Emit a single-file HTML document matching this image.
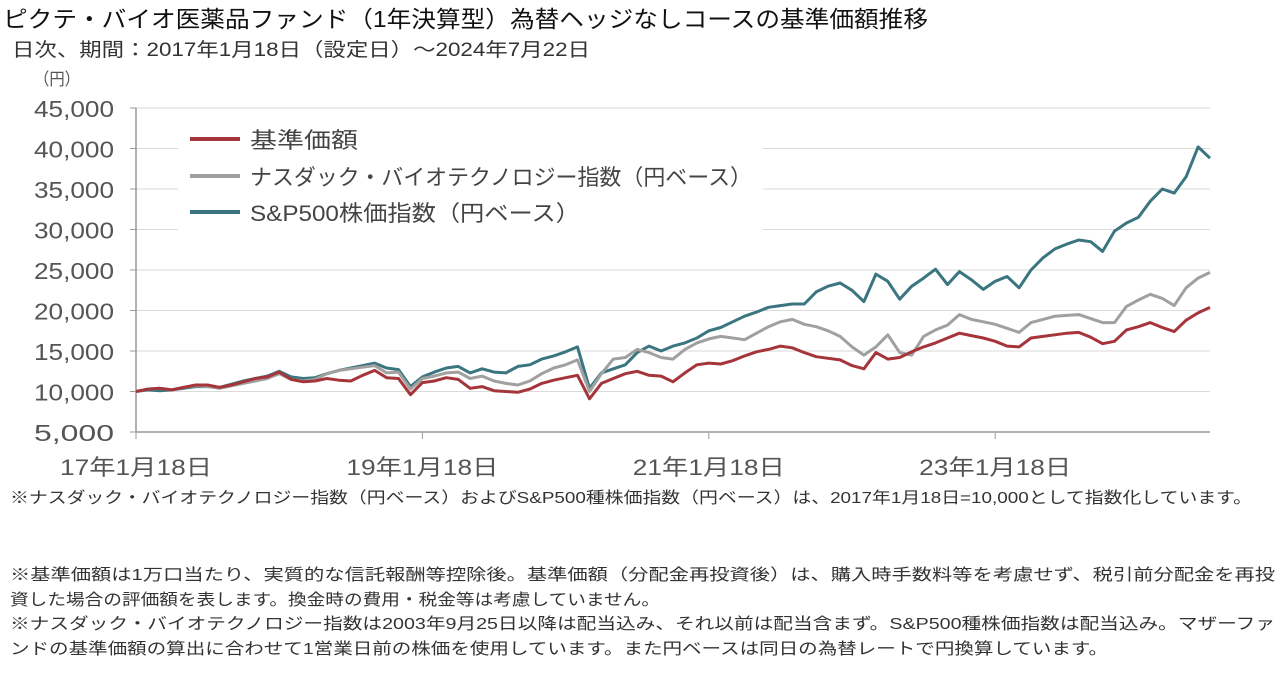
<!DOCTYPE html>
<html><head><meta charset="utf-8"><style>
html,body{margin:0;padding:0;background:#fff;}
svg{display:block;font-family:"Liberation Sans","Noto Sans CJK JP",sans-serif;}
</style></head><body>
<svg id="chart" width="1280" height="676" viewBox="0 0 1280 676" xmlns="http://www.w3.org/2000/svg">
<text x="3" y="27" font-size="23" fill="#111" textLength="925" lengthAdjust="spacingAndGlyphs">ピクテ・バイオ医薬品ファンド（1年決算型）為替ヘッジなしコースの基準価額推移</text>
<text x="12" y="56" font-size="19" fill="#333" textLength="578" lengthAdjust="spacingAndGlyphs">日次、期間：2017年1月18日（設定日）～2024年7月22日</text>
<text x="34" y="85" font-size="17" fill="#555" textLength="46" lengthAdjust="spacingAndGlyphs">（円）</text>
<g id="grid"></g>
<g id="legend">
<rect x="178" y="118" width="585" height="112" fill="#fff"/>
<line x1="190" y1="139" x2="240" y2="139" stroke="#a5353b" stroke-width="4"/>
<text x="250" y="148" font-size="22" fill="#444" textLength="108" lengthAdjust="spacingAndGlyphs">基準価額</text>
<line x1="190" y1="176" x2="240" y2="176" stroke="#a0a0a0" stroke-width="4"/>
<text x="250" y="185" font-size="22" fill="#444" textLength="502" lengthAdjust="spacingAndGlyphs">ナスダック・バイオテクノロジー指数（円ベース）</text>
<line x1="190" y1="212" x2="240" y2="212" stroke="#3a7580" stroke-width="4"/>
<text x="250" y="221" font-size="22" fill="#444" textLength="330" lengthAdjust="spacingAndGlyphs">S&amp;P500株価指数（円ベース）</text>
</g>
<g id="yticks"></g>
<g id="xticks"></g>
<g id="series"></g>
<text x="10" y="503" font-size="16" fill="#333" textLength="1242" lengthAdjust="spacingAndGlyphs">※ナスダック・バイオテクノロジー指数（円ベース）およびS&amp;P500種株価指数（円ベース）は、2017年1月18日=10,000として指数化しています。</text>
<text x="10" y="580" font-size="16" fill="#333" textLength="1265" lengthAdjust="spacingAndGlyphs">※基準価額は1万口当たり、実質的な信託報酬等控除後。基準価額（分配金再投資後）は、購入時手数料等を考慮せず、税引前分配金を再投</text>
<text x="10" y="605" font-size="16" fill="#333" textLength="650" lengthAdjust="spacingAndGlyphs">資した場合の評価額を表します。換金時の費用・税金等は考慮していません。</text>
<text x="10" y="629" font-size="16" fill="#333" textLength="1265" lengthAdjust="spacingAndGlyphs">※ナスダック・バイオテクノロジー指数は2003年9月25日以降は配当込み、それ以前は配当含まず。S&amp;P500種株価指数は配当込み。マザーファ</text>
<text x="10" y="654" font-size="16" fill="#333" textLength="1098" lengthAdjust="spacingAndGlyphs">ンドの基準価額の算出に合わせて1営業日前の株価を使用しています。また円ベースは同日の為替レートで円換算しています。</text>
</svg>
<script>
const yTicks = [5000,10000,15000,20000,25000,30000,35000,40000,45000];
const yTickLabels = ["5,000","10,000","15,000","20,000","25,000","30,000","35,000","40,000","45,000"];
const xTickMonths = [0,24,48,72];
const xTickLabels = ["17年1月18日","19年1月18日","21年1月18日","23年1月18日"];
// monthly values (thousand yen), Jan 2017 .. Jul 2024
const navValues = [10.0,10.3,10.4,10.2,10.5,10.8,10.8,10.5,10.8,11.2,11.6,11.8,12.4,11.5,11.2,11.3,11.6,11.4,11.3,12.0,12.6,11.7,11.6,9.6,11.1,11.3,11.7,11.5,10.4,10.6,10.1,10.0,9.9,10.3,11.0,11.4,11.7,12.0,9.1,11.0,11.6,12.2,12.5,12.0,11.9,11.2,12.3,13.3,13.5,13.4,13.8,14.4,14.9,15.2,15.6,15.4,14.8,14.3,14.1,13.9,13.2,12.8,14.8,14.0,14.2,14.9,15.5,16.0,16.6,17.2,16.9,16.6,16.2,15.6,15.5,16.6,16.8,17.0,17.2,17.3,16.7,15.9,16.2,17.6,18.0,18.5,17.9,17.4,18.8,19.7,20.4];
const nasdaqBioValues = [10.0,10.3,10.4,10.2,10.5,10.7,10.6,10.4,10.7,11.0,11.3,11.6,12.2,11.5,11.3,11.5,12.2,12.6,12.8,13.0,13.2,12.3,12.4,10.3,11.6,11.9,12.3,12.4,11.6,11.9,11.3,11.0,10.8,11.3,12.2,12.9,13.3,13.9,10.0,12.2,14.0,14.2,15.2,14.8,14.2,14.0,15.2,16.0,16.5,16.8,16.6,16.4,17.2,18.0,18.6,18.9,18.3,18.0,17.5,16.8,15.5,14.5,15.5,17.0,14.8,14.5,16.8,17.6,18.2,19.5,18.9,18.6,18.3,17.8,17.3,18.5,18.9,19.3,19.4,19.5,19.0,18.5,18.5,20.5,21.3,22.0,21.5,20.6,22.8,24.0,24.7];
const sp500Values = [10.0,10.2,10.1,10.2,10.4,10.6,10.6,10.5,10.9,11.3,11.6,11.9,12.5,11.8,11.6,11.7,12.2,12.6,12.9,13.2,13.5,12.9,12.7,10.6,11.8,12.4,12.9,13.1,12.3,12.8,12.4,12.3,13.1,13.3,14.0,14.4,14.9,15.5,10.4,12.3,12.8,13.3,14.8,15.6,15.0,15.6,16.0,16.6,17.5,17.9,18.6,19.3,19.8,20.4,20.6,20.8,20.8,22.3,23.0,23.4,22.5,21.1,24.5,23.6,21.4,23.0,24.0,25.1,23.2,24.8,23.8,22.6,23.6,24.2,22.8,25.0,26.5,27.6,28.2,28.7,28.5,27.3,29.8,30.8,31.5,33.5,35.0,34.5,36.5,40.2,38.8];

const NS='http://www.w3.org/2000/svg';
const X0=136, X1=1210, Y0=432, Y1=108;
const xScale = m => X0 + m*(X1-X0)/90;
const yScale = v => Y0 - (v-5000)*(Y0-Y1)/40000;
function mk(tag, attrs, parent){const e=document.createElementNS(NS,tag);for(const k in attrs)e.setAttribute(k,attrs[k]);parent.appendChild(e);return e;}
const grid=document.getElementById('grid'), yt=document.getElementById('yticks'), xt=document.getElementById('xticks'), ser=document.getElementById('series');
yTicks.forEach((v,i)=>{
  const y=yScale(v);
  if(v>5000){const g=mk('line',{x1:X0,x2:X1,y1:y,y2:y,stroke:'#dadada','stroke-width':1},grid);
  
  }
  const t=mk('line',{x1:X0-6,x2:X0,y1:y,y2:y,stroke:'#999','stroke-width':1},yt);
  
  
  const l=mk('text',{x:114,y:y+9,'font-size':23,fill:'#555','text-anchor':'end',textLength:80,lengthAdjust:'spacingAndGlyphs'},yt);
  l.textContent=yTickLabels[i];
  
  
});
const ax=mk('line',{x1:X0,x2:X0,y1:Y1,y2:Y0,stroke:'#999','stroke-width':1.5},yt);


const xa=mk('line',{x1:X0,x2:X1,y1:Y0,y2:Y0,stroke:'#999','stroke-width':1.5},xt);


xTickMonths.forEach((m,i)=>{
  const x=xScale(m);
  const t=mk('line',{x1:x,x2:x,y1:Y0,y2:Y0+7,stroke:'#999','stroke-width':1},xt);
  
  
  const l=mk('text',{x:x,y:475,'font-size':22,fill:'#555','text-anchor':'middle',textLength:152,lengthAdjust:'spacingAndGlyphs'},xt);
  l.textContent=xTickLabels[i];
  
  
});
function drawLine(vals,color,name){
  const d=vals.map((v,i)=>(i?'L':'M')+xScale(i).toFixed(1)+','+yScale(v*1000).toFixed(1)).join('');
  const p=mk('path',{d:d,fill:'none',stroke:color,'stroke-width':3,'stroke-linejoin':'round'},ser);
  
  
}
drawLine(sp500Values,'#3a7580','sp500-line');
drawLine(nasdaqBioValues,'#a0a0a0','nasdaq-bio-line');
drawLine(navValues,'#a5353b','nav-line');
</script>
</body></html>
